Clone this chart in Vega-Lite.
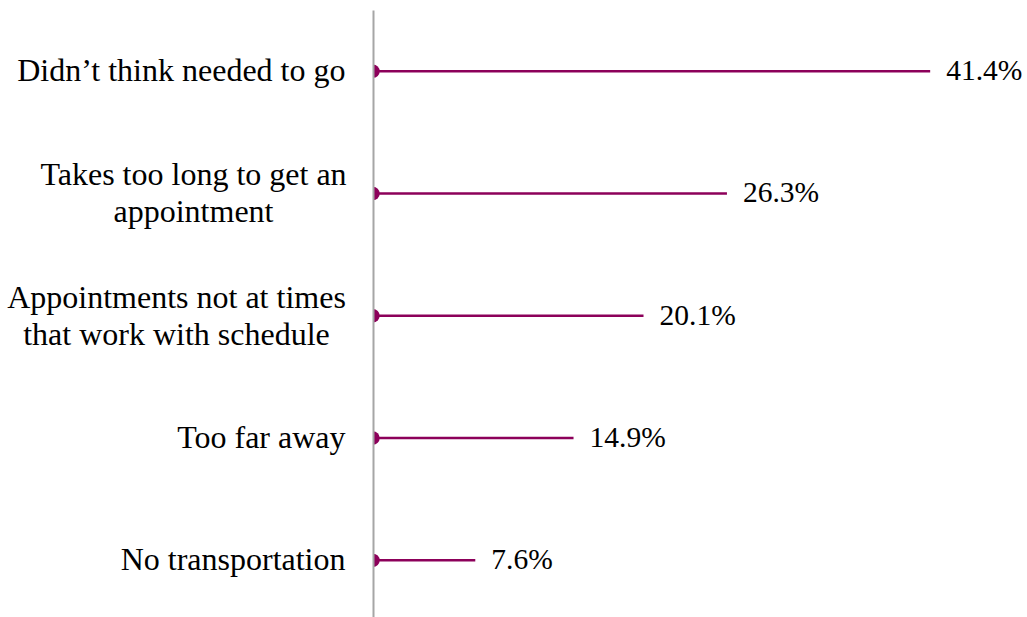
{
  "$schema": "https://vega.github.io/schema/vega-lite/v6.json",
  "width": 646,
  "height": 607,
  "autosize": {"type": "none"},
  "padding": {"left": 373, "top": 10, "right": 8, "bottom": 0},
  "background": "white",
  "config": {"view": {"stroke": null}, "font": "Liberation Serif"},
  "data": {
    "values": [
      {"reason": "Didn’t think needed to go", "pct": 0.414},
      {"reason": "Takes too long to get an|appointment", "pct": 0.263},
      {"reason": "Appointments not at times|that work with schedule", "pct": 0.201},
      {"reason": "Too far away", "pct": 0.149},
      {"reason": "No transportation", "pct": 0.076}
    ]
  },
  "encoding": {
    "y": {
      "field": "reason",
      "type": "nominal",
      "sort": null,
      "scale": {"paddingInner": 0, "paddingOuter": 0, "range": [0, 611.5]},
      "axis": {
        "title": null,
        "domain": true,
        "domainColor": "#A6A6A6",
        "domainWidth": 2,
        "ticks": false,
        "tickSize": 0,
        "grid": false,
        "zindex": 1,
        "labelFont": "Liberation Serif",
        "labelFontSize": 32,
        "labelColor": "black",
        "labelLimit": 0,
        "labelLineHeight": 37,
        "labelBaseline": "middle",
        "labelExpr": "split(datum.label, '|')",
        "labelAlign": {
          "condition": {"test": "indexof(datum.value, '|') >= 0", "value": "center"},
          "value": "right"
        },
        "labelOffset": {
          "condition": {"test": "indexof(datum.value, '|') >= 0", "value": -18},
          "value": 0
        },
        "labelPadding": {
          "condition": [
            {"test": "indexof(datum.value, 'Takes') >= 0", "value": 180},
            {"test": "indexof(datum.value, 'Appointments') >= 0", "value": 197}
          ],
          "value": 28
        }
      }
    }
  },
  "layer": [
    {
      "mark": {"type": "rule", "color": "#8C005A", "strokeWidth": 2.5},
      "encoding": {
        "x": {"field": "pct", "type": "quantitative", "scale": {"domain": [0, 0.48], "nice": false, "zero": true}, "axis": null},
        "x2": {"datum": 0}
      }
    },
    {
      "mark": {"type": "circle", "color": "#8C005A", "opacity": 1, "size": 180, "clip": true},
      "encoding": {
        "x": {"datum": 0, "type": "quantitative"}
      }
    },
    {
      "mark": {"type": "text", "align": "left", "baseline": "middle", "dx": 16, "fontSize": 29.5, "font": "Liberation Serif", "color": "black"},
      "encoding": {
        "x": {"field": "pct", "type": "quantitative"},
        "text": {"field": "pct", "type": "quantitative", "format": ".1%"}
      }
    }
  ]
}
